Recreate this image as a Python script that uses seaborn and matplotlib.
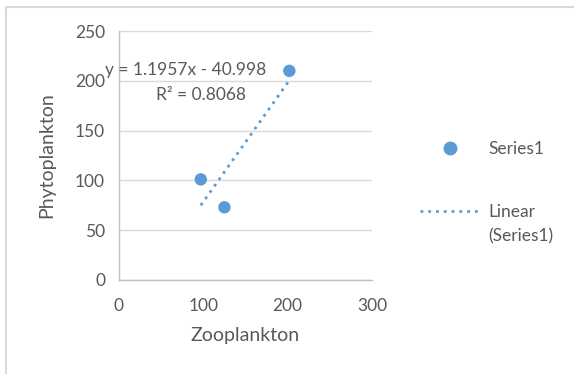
import matplotlib
matplotlib.use("Agg")
import matplotlib.pyplot as plt
import seaborn as sns
import numpy as np
import pandas as pd
from matplotlib.lines import Line2D
from matplotlib.patches import Rectangle

zooplankton = [97, 125, 202]
phytoplankton = [101, 73, 210]
series_name = "Series1"
trend_label_lines = ["Linear", "(Series1)"]
equation_text = "y = 1.1957x - 40.998"
r2_text = "R² = 0.8068"
x_ticks = [0, 100, 200, 300]
y_ticks = [0, 50, 100, 150, 200, 250]

sns.set_theme(style="white")
plt.rcParams['font.family'] = ['Lato', 'DejaVu Sans']

blue = "#5B9BD5"
text_gray = "#595959"
grid_gray = "#D9D9D9"
axis_gray = "#BFBFBF"

W, H = 574, 374
fig = plt.figure(figsize=(W / 100, H / 100), dpi=100)
fig.patch.set_facecolor("white")

def fx(px):
    return px / W

def fy(py):
    return 1 - py / H

ax = fig.add_axes([fx(119), fy(280), fx(372) - fx(119), fy(31) - fy(280)])

df = pd.DataFrame({"Zooplankton": zooplankton, "Phytoplankton": phytoplankton})
sns.scatterplot(data=df, x="Zooplankton", y="Phytoplankton", ax=ax, color=blue,
                s=80, edgecolor="none", zorder=3, legend=False)

slope, intercept = np.polyfit(zooplankton, phytoplankton, 1)
xs = np.array([min(zooplankton), max(zooplankton)])
trend = pd.DataFrame({"x": xs, "y": slope * xs + intercept})
dot_style = (0, (1, 1.8))
sns.lineplot(data=trend, x="x", y="y", ax=ax, color=blue, linestyle=dot_style,
             linewidth=2.0, zorder=2, legend=False)

ax.set_xlim(0, 300)
ax.set_ylim(0, 250)
ax.set_xticks(x_ticks)
ax.set_yticks(y_ticks)
ax.yaxis.grid(True, color=grid_gray, linewidth=1)
ax.xaxis.grid(False)
for s in ["top", "right"]:
    ax.spines[s].set_visible(False)
for s in ["left", "bottom"]:
    ax.spines[s].set_color(axis_gray)
    ax.spines[s].set_linewidth(1)
ax.tick_params(axis="both", direction="out", length=5, width=1, color=axis_gray,
               labelcolor=text_gray, labelsize=12.5, pad=5)
ax.tick_params(axis="x", pad=8)
ax.set_xlabel("Zooplankton", color=text_gray, fontsize=14, labelpad=9)
ax.set_ylabel("Phytoplankton", color=text_gray, fontsize=14, labelpad=14)
ax.set_axisbelow(True)

fig.text(fx(186), fy(70), equation_text, ha="center", va="center", color=text_gray, fontsize=12.5)
fig.text(fx(201), fy(95), r2_text, ha="center", va="center", color=text_gray, fontsize=12.5)

common = dict(frameon=False, fontsize=12.5, handlelength=3.4, handletextpad=0.55,
              labelcolor=text_gray, borderaxespad=0, borderpad=0, loc="center left")

fig.legend([Line2D([], [], marker="o", linestyle="none", color=blue, markersize=9)],
           [series_name], bbox_to_anchor=(fx(420), fy(149)), **common)
fig.legend([Line2D([], [], linestyle=dot_style, linewidth=2.0, color=blue),
            Line2D([], [], linestyle="none")],
           trend_label_lines, bbox_to_anchor=(fx(420), fy(224.5)),
           labelspacing=0.5, **common)

fig.add_artist(Rectangle((fx(6), fy(H + 10)), 1.2, fy(7) - fy(H + 10),
                         transform=fig.transFigure, fill=False,
                         edgecolor="#D9D9D9", linewidth=1.5, clip_on=False))

fig.savefig("out.png", dpi=100)
